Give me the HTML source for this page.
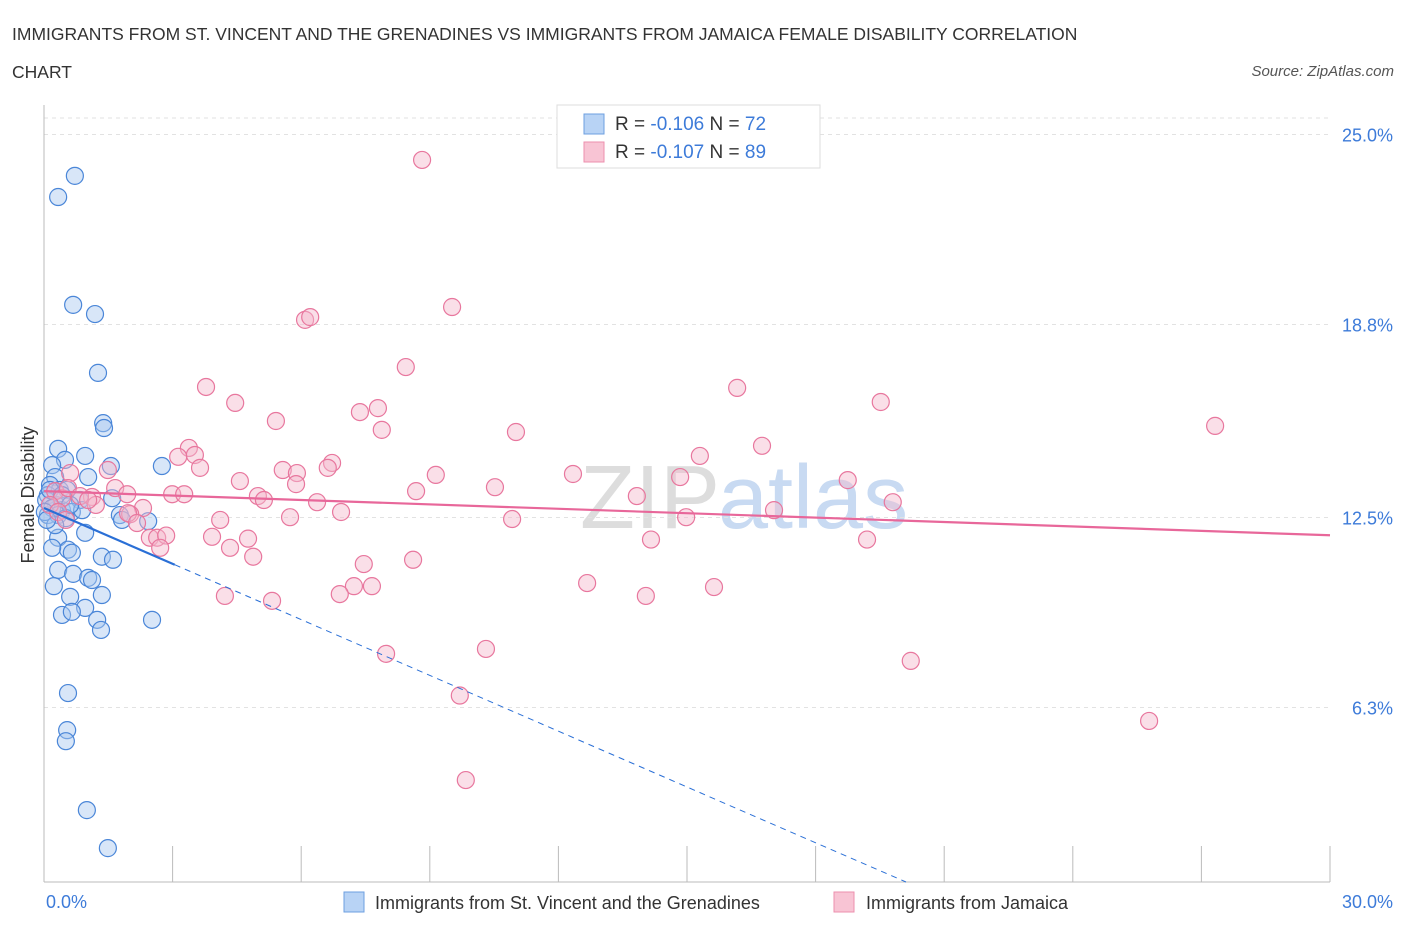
<!DOCTYPE html>
<html><head><meta charset="utf-8"><style>
body{margin:0;background:#fff;font-family:"Liberation Sans",sans-serif;}
svg text{font-family:"Liberation Sans",sans-serif;}
</style></head><body>
<svg width="1406" height="930" id="chart">
<text x="12" y="40" font-size="17.5" fill="#333">IMMIGRANTS FROM ST. VINCENT AND THE GRENADINES VS IMMIGRANTS FROM JAMAICA FEMALE DISABILITY CORRELATION</text>
<text x="12" y="78" font-size="17.5" fill="#333">CHART</text>
<text x="1394" y="76" font-size="15" fill="#555" font-style="italic" text-anchor="end">Source: ZipAtlas.com</text>
<text x="720" y="528" font-size="90" fill="#ddd" text-anchor="end" font-family="Liberation Serif">ZIP</text>
<text x="718" y="528" font-size="90" fill="#c8daf2">atlas</text>
<g id="grid"></g>
<g id="axes"></g>
<g id="pts"></g>
<g id="lines"></g>
<text x="34" y="495" font-size="18" fill="#333" text-anchor="middle" transform="rotate(-90 34 495)">Female Disability</text>
<text x="46" y="908" font-size="18" fill="#3d7bd9">0.0%</text>
<text x="1393" y="908" font-size="18" fill="#3d7bd9" text-anchor="end">30.0%</text>
<g>
<rect x="557" y="105" width="263" height="63" fill="#fff" stroke="#ddd"/>
<rect x="584" y="114" width="20" height="20" fill="#b8d3f5" stroke="#6d9fe0"/>
<rect x="584" y="142" width="20" height="20" fill="#f8c4d4" stroke="#ec8fae"/>
<text x="615" y="130" font-size="19" fill="#333">R = <tspan fill="#3d7bd9">-0.106</tspan>   N = <tspan fill="#3d7bd9">72</tspan></text>
<text x="615" y="158" font-size="19" fill="#333">R = <tspan fill="#3d7bd9">-0.107</tspan>   N = <tspan fill="#3d7bd9">89</tspan></text>
</g>
<g>
<rect x="344" y="892" width="20" height="20" fill="#b8d3f5" stroke="#6d9fe0"/>
<text x="375" y="909" font-size="18" fill="#333">Immigrants from St. Vincent and the Grenadines</text>
<rect x="834" y="892" width="20" height="20" fill="#f8c4d4" stroke="#ec8fae"/>
<text x="866" y="909" font-size="18" fill="#333">Immigrants from Jamaica</text>
</g>
</svg>
<script>
const yTicks=[25.0,18.8,12.5,6.3];
const yTickLabels=["25.0%","18.8%","12.5%","6.3%"];
const blueX=[0.72,0.33,0.68,1.19,1.26,1.38,1.40,0.96,0.33,0.49,0.19,1.56,2.75,1.03,0.26,0.14,0.37,0.54,0.09,1.59,0.84,0.28,0.42,0.65,0.09,1.77,2.43,1.82,0.89,0.96,0.33,0.56,0.19,0.65,1.35,1.61,0.33,0.68,1.03,1.12,0.23,1.35,0.61,0.96,0.42,0.65,1.24,1.33,2.52,0.56,0.54,0.51,1.00,1.49,0.05,0.19,0.33,0.02,0.14,0.42,0.51,0.26,0.61,0.07];
const blueY=[23.65,22.96,19.44,19.14,17.22,15.58,15.42,14.51,14.74,14.38,14.21,14.18,14.18,13.82,13.82,13.56,13.40,13.40,13.23,13.13,13.07,12.91,12.74,12.68,12.58,12.58,12.38,12.42,12.74,12.0,11.84,11.45,11.51,11.35,11.22,11.12,10.79,10.66,10.53,10.46,10.26,9.97,9.91,9.55,9.32,9.42,9.16,8.83,9.16,6.77,5.56,5.20,2.95,1.71,13.07,12.81,12.58,12.68,13.40,13.23,12.48,12.25,12.91,12.42];
const pinkX=[8.82,9.52,6.09,6.21,8.44,3.78,16.17,4.46,19.52,7.79,7.37,5.41,27.32,7.88,11.01,16.75,3.38,3.52,3.13,15.30,3.64,6.72,6.62,5.57,5.90,1.49,0.61,9.14,12.34,14.84,18.75,4.57,5.88,10.52,8.68,1.66,1.94,2.99,3.27,13.83,1.12,4.99,5.13,6.37,1.21,19.80,2.31,2.01,6.93,5.74,17.03,1.96,14.98,10.92,4.11,2.17,2.47,2.64,2.85,3.92,4.76,14.16,19.20,2.71,4.34,4.88,8.61,7.46,12.67,15.63,7.23,7.65,6.90,4.22,14.04,5.32,10.31,7.98,20.22,9.70,25.78,9.84,0.26,0.42,0.56,0.14,0.33,0.84,0.51,1.03];
const pinkY=[24.17,19.37,18.95,19.04,17.41,16.76,16.73,16.24,16.27,16.07,15.94,15.65,15.49,15.36,15.29,14.84,14.77,14.54,14.48,14.51,14.12,14.28,14.12,14.05,13.95,14.05,13.95,13.89,13.92,13.82,13.72,13.69,13.59,13.49,13.36,13.46,13.26,13.26,13.26,13.20,13.17,13.20,13.07,13.00,12.91,13.00,12.81,12.61,12.68,12.51,12.74,12.64,12.51,12.45,12.42,12.32,11.84,11.84,11.91,11.87,11.81,11.78,11.78,11.51,11.51,11.22,11.12,10.98,10.36,10.23,10.26,10.26,10.0,9.94,9.94,9.78,8.21,8.05,7.82,6.69,5.86,3.93,13.36,13.13,13.46,12.91,12.68,13.20,12.42,13.07];
const blueFit=[12.81,-0.607];
const pinkFit=[13.36,-0.048];
const NS="http://www.w3.org/2000/svg";
const X0=44,X1=1330,XMAX=30,Y0=900.5,YS=30.64,BOTTOM=882;
const sx=v=>X0+v*(X1-X0)/XMAX, sy=v=>Y0-v*YS;
function mk(tag,attrs,parent){const e=document.createElementNS(NS,tag);for(const k in attrs)e.setAttribute(k,attrs[k]);document.getElementById(parent).appendChild(e);return e;}
mk('line',{x1:44,x2:1330,y1:118,y2:118,stroke:'#e2e2e2','stroke-dasharray':'4,4'},'grid');
yTicks.forEach((t,i)=>{
  const g=mk('line',{x1:44,x2:1330,y1:sy(t),y2:sy(t),stroke:'#e2e2e2','stroke-dasharray':'4,4'},'grid');
  
  
  const tx=mk('text',{x:1393,y:sy(t)+7,'font-size':18,fill:'#3d7bd9','text-anchor':'end'},'axes');
  tx.textContent=yTickLabels[i];
  
  
});
const a1=mk('line',{x1:44,x2:44,y1:105,y2:BOTTOM,stroke:'#bbb'},'axes');


const a2=mk('line',{x1:44,x2:1330,y1:BOTTOM,y2:BOTTOM,stroke:'#bbb'},'axes');


for(let i=0;i<=10;i++){const v=i*3;const t=mk('line',{x1:sx(v),x2:sx(v),y1:846,y2:BOTTOM,stroke:'#bbb'},'axes');
  
  }
function pts(xs,ys,fill,stroke,name){xs.forEach((x,i)=>{const c=mk('circle',{cx:sx(x),cy:sy(ys[i]),r:8.5,fill:fill,'fill-opacity':0.45,stroke:stroke,'stroke-width':1.2},'pts');
  
  });}
pts(blueX,blueY,'#a8c8f0','#4a86d8','point-st-vincent');
pts(pinkX,pinkY,'#f5b8cb','#e8779e','point-jamaica');
const pl=mk('line',{x1:sx(0),y1:sy(pinkFit[0]),x2:sx(30),y2:sy(pinkFit[0]+pinkFit[1]*30),stroke:'#e8679a','stroke-width':2.2},'lines');


const xs=3.05,xe=(blueFit[0]-(Y0-BOTTOM)/YS)/(-blueFit[1]);
const bl=mk('line',{x1:sx(0),y1:sy(blueFit[0]),x2:sx(xs),y2:sy(blueFit[0]+blueFit[1]*xs),stroke:'#2a6fd6','stroke-width':2.2},'lines');


const bd=mk('line',{x1:sx(xs),y1:sy(blueFit[0]+blueFit[1]*xs),x2:sx(xe),y2:sy(blueFit[0]+blueFit[1]*xe),stroke:'#2a6fd6','stroke-width':1,'stroke-dasharray':'6,5'},'lines');


</script>
</body></html>
